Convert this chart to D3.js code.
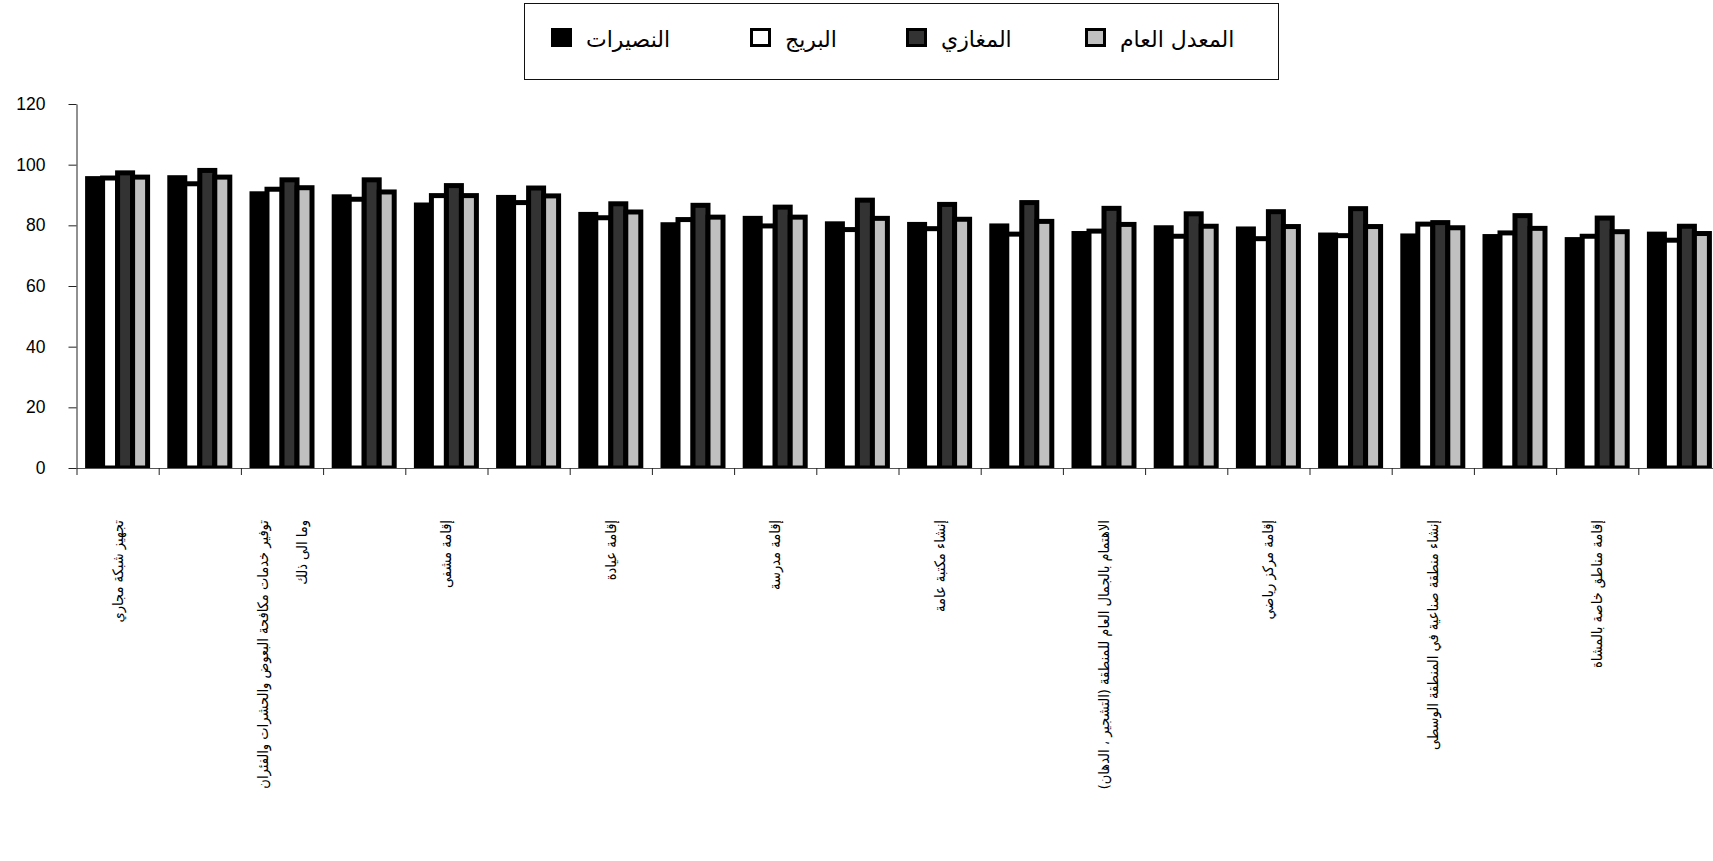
<!DOCTYPE html>
<html><head><meta charset="utf-8">
<script src="https://cdn.jsdelivr.net/npm/d3@7"></script>
<style>body{margin:0;background:#fff;overflow:hidden}</style>
</head><body><svg id="c" width="1713" height="861"></svg>
<script>
// ---- data ----
const categories = [
  "تجهيز شبكة مجاري", "",
  "توفير خدمات مكافحة البعوض والحشرات والفئران\nوما الى ذلك", "",
  "إقامة مشفى", "",
  "إقامة عيادة", "",
  "إقامة مدرسة", "",
  "إنشاء مكتبة عامة", "",
  "الاهتمام بالجمال العام للمنطقة (التشجير ، الدهان)", "",
  "إقامة مركز رياضي", "",
  "إنشاء منطقة صناعية في المنطقة الوسطى", "",
  "إقامة مناطق خاصة بالمشاة", ""
];
const seriesNames = ["النصيرات", "البريج", "المغازي", "المعدل العام"];
const nuseirat = [95.4,95.7,90.4,89.4,86.7,89.2,83.6,80.2,82.3,80.5,80.3,79.8,77.3,79.2,78.8,76.8,76.5,76.3,75.3,77.1];
const bureij   = [95.6,93.7,91.9,88.6,89.8,87.5,82.5,81.9,79.8,78.6,78.9,77.1,78.1,76.4,75.6,76.6,80.4,77.5,76.4,75.1];
const maghazi  = [97.3,98.1,95.0,95.0,93.1,92.3,87.1,86.6,86.0,88.3,86.9,87.5,85.6,83.8,84.5,85.5,80.9,83.2,82.4,79.7];
const average  = [95.9,95.9,92.4,91.0,89.8,89.7,84.4,82.7,82.7,82.3,82.0,81.3,80.3,79.7,79.6,79.6,79.2,79.0,77.9,77.3];
const yTicks = [0, 20, 40, 60, 80, 100, 120];
const seriesColors = ["#000000", "#ffffff", "#333333", "#c0c0c0"];

const seriesValues = [nuseirat, bureij, maghazi, average];
const svg = d3.select("#c");
svg.append("rect").attr("width",1713).attr("height",861).attr("fill","#fff");

const left = 76.5, step = 82.2, n = categories.length;
const x0 = d3.scaleBand().domain(d3.range(n)).range([left, left + n*step]).padding(0);
const x1 = d3.scaleBand().domain(d3.range(4)).range([0, x0.bandwidth()]).paddingInner(0).paddingOuter(0.74);
const y = d3.scaleLinear().domain([0, 120]).range([468, 104]);

// clip for bars
svg.append("defs").append("clipPath").attr("id","clip")
  .append("rect").attr("x",0).attr("y",0).attr("width",1713).attr("height",y(0));

const gBars = svg.append("g").attr("clip-path","url(#clip)");
const rows = d3.range(n).flatMap(i => d3.range(4).map(s => ({i, s, v: seriesValues[s][i]})));
gBars.selectAll("rect").data(rows).join("rect")
  .attr("x", d => x0(d.i) + x1(d.s))
  .attr("y", d => y(d.v))
  .attr("width", x1.bandwidth())
  .attr("height", d => y(0) - y(d.v))
  .attr("fill", d => seriesColors[d.s])
  .attr("stroke", "#000")
  .attr("stroke-width", 5);

// y axis
const yAxis = svg.append("g").attr("transform", `translate(${left},0)`)
  .call(d3.axisLeft(y).tickValues(yTicks).tickSize(8).tickSizeOuter(0).tickPadding(23));
yAxis.select(".domain").attr("stroke","#222");
yAxis.selectAll(".tick line").attr("stroke","#222");
yAxis.selectAll(".tick text").attr("font-family","'Liberation Sans', Arial, sans-serif")
  .attr("font-size",17.5).attr("fill","#000");

// x axis (ticks on category boundaries)
const xb = d3.scaleLinear().domain([0, n]).range([left, left + n*step]);
const xAxis = svg.append("g").attr("transform", `translate(0,${y(0)})`)
  .call(d3.axisBottom(xb).tickValues(d3.range(n+1)).tickFormat("").tickSize(7).tickSizeOuter(0));
xAxis.select(".domain").attr("stroke","#555");
xAxis.selectAll(".tick line").attr("stroke","#222");

// category labels (rotated)
const gLab = svg.append("g");
categories.forEach((c, i) => {
  if (!c) return;
  const lines = c.split("\n");
  const g = gLab.append("g")
    .attr("transform", `translate(${x0(i) + x0.bandwidth()/2},520) rotate(-90)`);
  lines.forEach((ln, j) => {
    g.append("text")
      .attr("x", 0)
      .attr("y", (j - (lines.length-1)/2) * 39)
      .attr("dy", "0.35em")
      .attr("text-anchor", "end")
      .attr("font-family", "'DejaVu Sans Condensed', 'DejaVu Sans', sans-serif")
      .attr("font-stretch", "condensed")
      .attr("font-size", 14.5)
      .attr("fill", "#000")
      .text(ln);
  });
});

// legend
const legend = svg.append("g");
legend.append("rect").attr("x",524.5).attr("y",3.5).attr("width",754).attr("height",76)
  .attr("fill","#fff").attr("stroke","#111").attr("stroke-width",1);
const legX = [551, 750, 906, 1085];
seriesNames.forEach((s, k) => {
  legend.append("rect").attr("x", legX[k]+1.5).attr("y", 29.5).attr("width",18).attr("height",16)
    .attr("fill", seriesColors[k]).attr("stroke","#000").attr("stroke-width",3);
  legend.append("text").attr("x", legX[k] + 35).attr("y", 47)
    .attr("font-family","'DejaVu Sans', sans-serif").attr("font-size",22)
    .attr("fill","#000").text(s);
});
</script>
</body></html>
